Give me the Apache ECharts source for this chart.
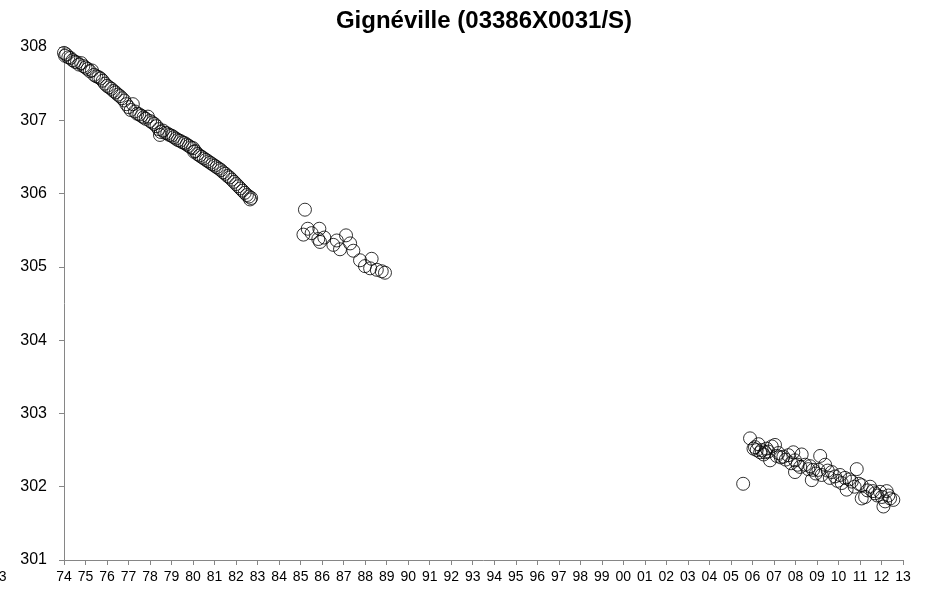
<!DOCTYPE html>
<html>
<head>
<meta charset="utf-8">
<script src="https://cdn.jsdelivr.net/npm/echarts@6/dist/echarts.min.js"></script>
<style>
  html, body { margin: 0; padding: 0; background: #ffffff; }
  #chart { width: 951px; height: 591px; }
</style>
</head>
<body>
<div id="chart"></div>
<script>
// Groundwater level readings (m NGF) at Gignéville, decimal years
const years1 = [
  1974.0,1974.05,1974.1,1974.2,1974.3,1974.4,1974.5,1974.6,1974.7,1974.8,1974.9,
  1975.0,1975.1,1975.2,1975.3,1975.4,1975.5,1975.6,1975.7,1975.8,1975.9,
  1976.0,1976.1,1976.2,1976.3,1976.4,1976.5,1976.6,1976.7,1976.8,1976.9,
  1977.0,1977.1,1977.2,1977.3,1977.4,1977.5,1977.6,1977.7,1977.8,1977.9,
  1978.0,1978.1,1978.2,1978.3,1978.4,1978.46,1978.5,1978.6,1978.7,1978.8,1978.9,
  1979.0,1979.1,1979.2,1979.3,1979.4,1979.5,1979.6,1979.7,1979.8,1979.9,
  1980.0,1980.05,1980.1,1980.2,1980.3,1980.4,1980.5,1980.6,1980.7,1980.8,1980.9,
  1981.0,1981.1,1981.2,1981.3,1981.4,1981.5,1981.6,1981.7,1981.8,1981.9,
  1982.0,1982.1,1982.2,1982.3,1982.4,1982.5,1982.6,1982.65,1982.7
];
const levels1 = [
  307.92,307.88,307.90,307.86,307.85,307.82,307.80,307.79,307.76,307.78,307.74,
  307.72,307.70,307.67,307.68,307.62,307.60,307.59,307.57,307.54,307.50,
  307.47,307.45,307.43,307.40,307.38,307.35,307.33,307.30,307.27,307.22,
  307.18,307.14,307.22,307.12,307.09,307.08,307.06,307.04,307.02,307.05,
  306.99,306.97,306.95,306.92,306.88,306.80,306.84,306.86,306.83,306.82,306.80,
  306.79,306.77,306.75,306.73,306.72,306.70,306.69,306.67,306.65,306.63,
  306.62,306.57,306.58,306.54,306.52,306.50,306.48,306.46,306.44,306.42,306.40,
  306.38,306.36,306.34,306.32,306.29,306.27,306.24,306.22,306.19,306.16,
  306.13,306.10,306.07,306.04,306.01,305.98,305.96,305.92,305.94
];

const years2 = [
  1985.13,1985.20,1985.33,1985.51,1985.82,1985.87,1985.90,1986.10,1986.52,1986.68,
  1986.83,1987.11,1987.30,1987.45,1987.76,1987.99,1988.23,1988.30,1988.54,1988.77,1988.92
];
const levels2 = [
  305.44,305.78,305.52,305.46,305.38,305.52,305.34,305.40,305.30,305.36,
  305.24,305.43,305.32,305.22,305.09,305.01,304.98,305.11,304.96,304.94,304.92
];

const years3 = [
  2005.57,2005.89,2006.05,2006.12,2006.20,2006.28,2006.36,2006.43,2006.52,2006.59,
  2006.66,2006.74,2006.82,2006.90,2007.05,2007.13,2007.21,2007.32,2007.44,2007.55,
  2007.67,2007.80,2007.90,2007.98,2007.98,2008.10,2008.22,2008.29,2008.45,2008.60,
  2008.68,2008.76,2008.82,2008.95,2009.07,2009.15,2009.22,2009.38,2009.50,2009.60,
  2009.69,2009.84,2009.95,2010.07,2010.15,2010.30,2010.38,2010.50,2010.62,2010.75,
  2010.85,2010.95,2011.08,2011.08,2011.24,2011.35,2011.47,2011.60,2011.70,2011.80,
  2011.93,2012.02,2012.09,2012.17,2012.24,2012.32,2012.40,2012.55
];
const levels3 = [
  302.04,302.66,302.52,302.54,302.50,302.58,302.47,302.50,302.44,302.47,
  302.52,302.48,302.36,302.55,302.57,302.42,302.46,302.40,302.41,302.37,
  302.43,302.32,302.47,302.36,302.20,302.30,302.27,302.44,302.30,302.24,
  302.28,302.09,302.23,302.18,302.23,302.42,302.16,302.30,302.22,302.12,
  302.20,302.14,302.08,302.16,302.05,302.12,301.96,302.10,302.07,302.00,
  302.24,302.04,302.02,301.84,301.86,301.95,302.00,301.94,301.91,301.88,
  301.93,301.86,301.73,301.80,301.94,301.88,301.84,301.82
];

const yearLabel = v => String(Math.round(v) % 100).padStart(2, '0');

function pairs(xs, ys) {
  return xs.map((x, i) => [x, ys[i]]);
}

const chart = echarts.init(document.getElementById('chart'));
const axisGray = '#868686';
const font = 'Liberation Sans, Arial, sans-serif';

chart.setOption({
  animation: false,
  backgroundColor: '#ffffff',
  title: {
    text: 'Gignéville (03386X0031/S)',
    left: 484,
    top: 9,
    textAlign: 'center',
    padding: 0,
    textStyle: {
      fontFamily: font,
      fontWeight: 'bold',
      fontSize: 24,
      color: '#000'
    }
  },
  grid: { left: 64, right: 48, top: 47, bottom: 31 },
  xAxis: {
    type: 'value',
    min: 1974,
    max: 2013,
    interval: 1,
    axisLine: { lineStyle: { color: axisGray, width: 1 } },
    axisTick: { show: true, length: 5, lineStyle: { color: axisGray } },
    splitLine: { show: false },
    axisLabel: {
      formatter: yearLabel,
      fontFamily: font,
      fontSize: 14,
      color: '#000',
      margin: 10
    }
  },
  yAxis: {
    type: 'value',
    min: 301,
    max: 308,
    interval: 1,
    axisLine: { show: true, lineStyle: { color: axisGray, width: 1 } },
    axisTick: { show: true, length: 5, lineStyle: { color: axisGray } },
    splitLine: { show: false },
    axisLabel: {
      fontFamily: font,
      fontSize: 16,
      color: '#000',
      margin: 17
    }
  },
  graphic: [{
    type: 'text',
    left: -9,
    top: 570,
    style: {
      text: '73',
      font: '14px "Liberation Sans", Arial, sans-serif',
      fill: '#000'
    }
  }],
  series: [years1, years2, years3].map((xs, k) => ({
    type: 'scatter',
    symbol: 'circle',
    symbolSize: 13,
    data: pairs(xs, [levels1, levels2, levels3][k]),
    itemStyle: {
      color: 'rgba(255,255,255,0)',
      borderColor: '#000',
      borderWidth: 1
    },
    clip: false
  }))
});
</script>
</body>
</html>
